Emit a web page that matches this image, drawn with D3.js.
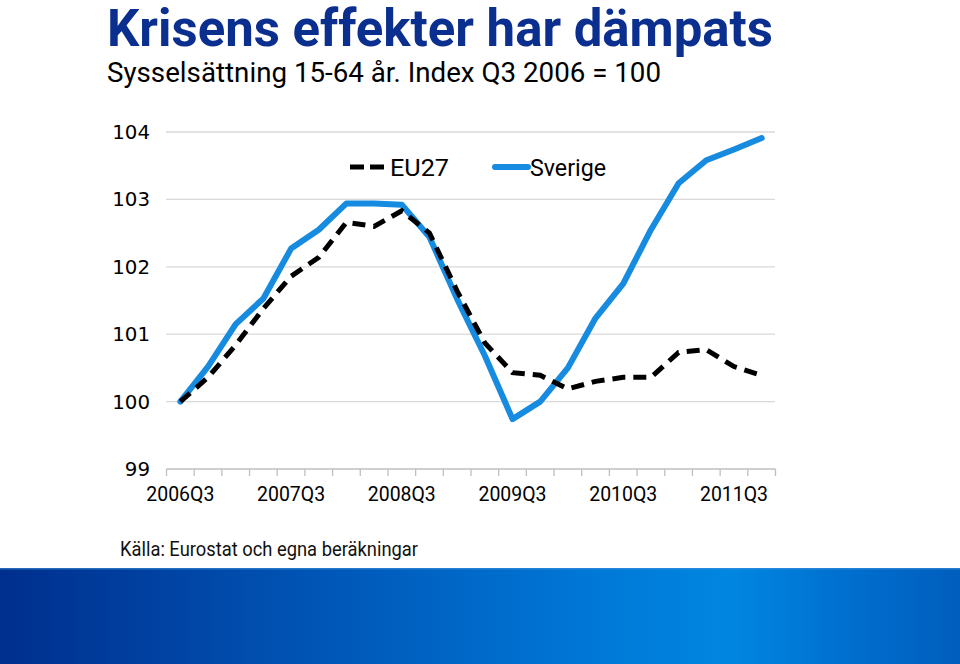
<!DOCTYPE html>
<html><head><meta charset="utf-8">
<script src="https://cdn.jsdelivr.net/npm/d3@7"></script>
<style>body{margin:0;background:#fff}svg{display:block}</style>
</head><body>
<svg id="c" width="960" height="664"></svg>
<script>
const quarters = ["2006Q3","2006Q4","2007Q1","2007Q2","2007Q3","2007Q4","2008Q1","2008Q2","2008Q3","2008Q4","2009Q1","2009Q2","2009Q3","2009Q4","2010Q1","2010Q2","2010Q3","2010Q4","2011Q1","2011Q2","2011Q3","2011Q4"];
const eu27 = [100,100.36,100.84,101.38,101.86,102.14,102.66,102.6,102.83,102.5,101.64,100.87,100.43,100.39,100.19,100.3,100.36,100.36,100.73,100.77,100.52,100.39];
const sverige = [100,100.52,101.15,101.53,102.27,102.55,102.94,102.94,102.92,102.44,101.52,100.68,99.74,100.0,100.5,101.24,101.75,102.55,103.24,103.58,103.74,103.91];
const yTicks = [99,100,101,102,103,104];
const xLabels = ["2006Q3","2007Q3","2008Q3","2009Q3","2010Q3","2011Q3"];
const title = "Krisens effekter har dämpats";
const subtitle = "Sysselsättning 15-64 år. Index Q3 2006 = 100";
const source = "Källa: Eurostat och egna beräkningar";

const svg = d3.select("#c");
const defs = svg.append("defs");
const g = defs.append("linearGradient").attr("id","band").attr("x1","0").attr("x2","1").attr("y1","0").attr("y2","0");
[[0,"#002f8e"],[0.3,"#0052b2"],[0.6,"#0076d6"],[0.76,"#0086e2"],[0.9,"#006ccc"],[1,"#005ebd"]].forEach(s=>g.append("stop").attr("offset",s[0]).attr("stop-color",s[1]));
svg.append("rect").attr("x",0).attr("y",568).attr("width",960).attr("height",96).attr("fill","url(#band)");
svg.append("rect").attr("x",0).attr("y",568).attr("width",960).attr("height",1.5).attr("fill","#3d8fd8").attr("opacity",0.6);

const cond = "'Liberation Sans Narrow','Roboto','Liberation Sans',sans-serif";
svg.append("text").attr("x",107).attr("y",46).text(title)
  .attr("font-family",cond).attr("font-weight","bold").attr("font-size",52).attr("fill","#0b2f8e")
  .attr("textLength",666).attr("lengthAdjust","spacingAndGlyphs");
svg.append("text").attr("x",107).attr("y",82).text(subtitle)
  .attr("font-family",cond).attr("font-size",28).attr("fill","#000")
  .attr("textLength",554).attr("lengthAdjust","spacingAndGlyphs");
svg.append("text").attr("x",120).attr("y",556).text(source)
  .attr("font-family",cond).attr("font-size",20).attr("fill","#111")
  .attr("textLength",298).attr("lengthAdjust","spacingAndGlyphs");

const x = d3.scaleBand().domain(quarters).range([166.5,775.5]);
const y = d3.scaleLinear().domain([99,104]).range([469,132]);
const cx = q => x(q) + x.bandwidth()/2;

// gridlines
svg.append("g").selectAll("line").data(yTicks.filter(t=>t>99)).join("line")
  .attr("x1",166).attr("x2",775).attr("y1",d=>y(d)).attr("y2",d=>y(d))
  .attr("stroke","#d9d9d9").attr("stroke-width",1.3);

// y labels
svg.append("g").selectAll("text").data(yTicks).join("text")
  .attr("x",150).attr("y",d=>y(d)+7).attr("text-anchor","end").text(d=>d)
  .attr("font-family","'DejaVu Sans',sans-serif").attr("font-size",19).attr("fill","#000")
  .attr("textLength",d=>String(d).length*12.6).attr("lengthAdjust","spacingAndGlyphs");

// x axis
const xa = svg.append("g").attr("transform",`translate(0,${y(99)})`);
xa.append("line").attr("x1",166.5).attr("x2",775.5).attr("stroke","#bfbfbf").attr("stroke-width",1.3);
const bounds = quarters.map(q=>x(q)).concat([x(quarters[quarters.length-1])+x.bandwidth()]);
xa.selectAll("line.t").data(bounds).join("line").attr("class","t")
  .attr("x1",d=>d).attr("x2",d=>d).attr("y1",0).attr("y2",7).attr("stroke","#bfbfbf").attr("stroke-width",1.3);
xa.selectAll("text").data(xLabels).join("text")
  .attr("x",d=>cx(d)).attr("y",32).attr("text-anchor","middle").text(d=>d)
  .attr("font-family",cond).attr("font-size",21).attr("fill","#000")
  .attr("textLength",68).attr("lengthAdjust","spacingAndGlyphs");

const line = d3.line().x((d,i)=>cx(quarters[i])).y(d=>y(d));
svg.append("path").datum(sverige).attr("d",line).attr("fill","none")
  .attr("stroke","#178be0").attr("stroke-width",6).attr("stroke-linejoin","round").attr("stroke-linecap","round");
svg.append("path").datum(eu27).attr("d",line).attr("fill","none")
  .attr("stroke","#000").attr("stroke-width",5).attr("stroke-dasharray","13,8");

// legend
const lg = svg.append("g");
lg.append("line").attr("x1",350).attr("x2",389).attr("y1",167).attr("y2",167)
  .attr("stroke","#000").attr("stroke-width",5).attr("stroke-dasharray","14,6");
lg.append("text").attr("x",390).attr("y",176).text("EU27")
  .attr("font-family",cond).attr("font-size",24).attr("fill","#000")
  .attr("textLength",59).attr("lengthAdjust","spacingAndGlyphs");
lg.append("line").attr("x1",495).attr("x2",528).attr("y1",167).attr("y2",167)
  .attr("stroke","#178be0").attr("stroke-width",6).attr("stroke-linecap","round");
lg.append("text").attr("x",530).attr("y",176).text("Sverige")
  .attr("font-family",cond).attr("font-size",24).attr("fill","#000")
  .attr("textLength",76).attr("lengthAdjust","spacingAndGlyphs");
</script>
</body></html>
